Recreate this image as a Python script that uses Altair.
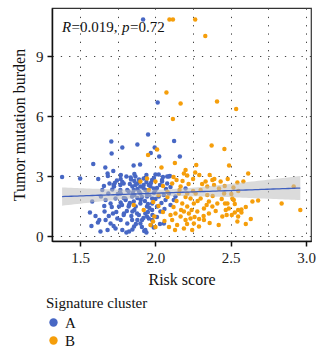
import altair as alt
import numpy as np
import pandas as pd

# Signature cluster A: risk score / tumor mutation burden
risk_a = [1.918, 2.015, 1.951, 1.707, 1.709, 1.78, 1.88, 1.995, 1.969, 2.025, 1.587, 1.667,
          1.855, 1.898, 1.682, 1.684, 1.38, 1.5, 2.124, 2.162, 2.078, 2.096,
          1.58, 1.565, 1.602, 1.575, 1.618, 1.658, 1.647, 1.695, 1.725, 1.687, 1.669, 1.702,
          1.735, 1.758, 1.669, 1.702, 1.635, 1.735, 1.769, 1.791, 1.813, 1.78, 1.825, 1.858,
          1.88, 1.847, 1.869, 1.902, 1.802, 1.769, 1.813, 1.847, 1.88, 1.891, 1.825, 1.769,
          1.718, 1.747, 1.627, 1.682, 1.722, 1.807, 1.847, 1.925, 1.94, 1.989, 1.638, 1.713,
          1.662, 1.789, 1.845, 1.878, 1.9, 1.944, 1.978, 1.778, 1.822, 1.856, 1.9, 1.944,
          1.978, 1.744, 1.789, 1.807, 1.838, 1.867, 1.896, 1.922, 1.956, 1.989, 1.767, 1.822,
          1.856, 1.9, 1.944, 1.978, 1.845, 1.8, 1.767, 1.722, 1.9, 1.933, 1.867,
          1.922, 1.967, 1.944, 2.0, 2.022, 2.056, 2.089, 2.122, 2.133, 2.2, 2.044, 2.078,
          1.978, 2.011, 2.033, 1.933, 1.956, 1.911, 1.933, 2.056, 2.067, 2.1,
          2.0, 2.022, 2.089, 1.978, 2.044, 1.769, 1.836, 1.891,
          1.86, 1.88, 1.91, 1.93, 1.95, 1.96, 1.99, 2.01, 2.03, 1.97, 1.92, 1.88,
          1.85, 1.83, 1.86, 1.89, 1.92, 1.95, 1.98, 2.01, 2.03, 1.97, 1.91, 1.87,
          1.84, 1.81, 1.79, 1.75, 1.73, 1.78, 1.83, 1.86, 1.94, 1.99, 2.05, 2.07,
          2.1, 2.04, 2.06, 2.0, 1.96, 1.71, 1.66, 1.74, 1.69, 1.94, 1.86, 1.77,
          1.72, 1.62]
tmb_a = [10.83, 6.67, 5.07, 4.72, 4.12, 4.43, 4.58, 4.43, 4.15, 3.98, 3.6, 3.42,
         3.52, 3.57, 3.13, 3.0, 2.95, 2.87, 4.75, 3.98, 2.97, 3.0,
         1.72, 1.18, 1.0, 0.5, 0.67, 2.5, 2.3, 2.63, 2.47, 2.13, 1.8, 1.63,
         1.88, 1.47, 0.8, 0.63, 0.22, 0.38, 0.8, 1.13, 0.63, 0.3, 0.22, 0.47,
         0.8, 1.22, 1.47, 1.8, 1.8, 2.13, 2.3, 2.47, 2.63, 2.22, 1.55, 1.67,
         1.13, 0.88, 0.8, 0.3, 0.5, 0.17, 0.33, 0.25, 0.17, 0.43, 1.97, 2.33,
         1.22, 1.05, 0.8, 1.13, 0.63, 0.97, 0.8, 1.55, 1.47, 1.72, 1.63, 1.47,
         1.3, 2.77, 2.63, 2.97, 2.83, 2.97, 2.72, 2.88, 2.55, 2.38, 2.3, 2.22,
         2.3, 2.13, 1.97, 1.88, 1.97, 1.88, 2.55, 2.55, 2.47, 2.3, 2.55,
         2.55, 2.47, 2.13, 2.3, 1.97, 2.05, 2.13, 1.8, 1.97, 2.38, 2.72, 2.63,
         1.63, 1.47, 1.22, 1.13, 0.88, 0.8, 0.3, 0.63, 1.8, 1.55,
         3.08, 3.08, 2.97, 2.8, 2.8, 2.85, 2.93, 2.83,
         2.05, 1.9, 1.95, 1.75, 1.6, 2.05, 2.15, 2.4, 2.55, 2.65, 2.4, 2.35,
         2.15, 1.65, 1.3, 1.05, 0.9, 1.2, 1.05, 0.95, 0.6, 0.55, 0.45, 0.6,
         1.0, 1.25, 1.9, 2.1, 2.65, 2.7, 2.6, 2.75, 2.7, 2.9, 2.95, 2.35,
         2.45, 1.65, 1.35, 1.85, 1.4, 1.45, 1.5, 1.2, 1.0, 3.05, 3.1, 3.05,
         3.25, 2.85]

# Signature cluster B
risk_b = [2.011, 1.951, 2.093, 2.116, 2.264, 2.331, 2.073, 2.167, 2.409, 2.536, 2.116, 2.373,
          2.458, 2.129, 2.271, 2.489, 2.04, 2.2, 2.189, 2.211, 2.264, 2.291, 2.616, 2.391,
          2.544, 2.584, 2.918, 2.962, 2.838, 2.644, 2.682, 2.6, 2.633, 2.544, 2.571, 2.527,
          2.549, 2.487, 2.507, 2.473, 2.511, 2.462, 2.518,
          1.9, 1.944, 1.956, 2.0, 1.985, 1.993, 1.984, 1.856, 1.922,
          2.111, 2.167, 2.211, 2.156, 2.233, 2.178, 2.211, 2.189, 2.222, 2.167, 2.2, 2.233,
          2.133, 2.111, 1.967, 2.255, 2.278, 2.322, 2.355, 2.344, 2.378, 2.411, 2.355, 2.3,
          2.267, 2.344, 2.389, 2.422, 2.456, 2.478, 2.467, 2.444, 2.322, 2.255, 2.289, 2.189,
          2.144, 2.244, 2.378, 2.333, 2.433, 2.14,
          2.504, 2.52, 2.527, 2.571, 2.549,
          2.02, 2.05, 2.08, 2.1, 2.12, 2.14, 2.16, 2.18, 2.2, 2.22, 2.24, 2.26,
          2.28, 2.3, 2.32, 2.34, 2.36, 2.38, 2.4, 2.42, 2.44, 2.46, 2.06, 2.09,
          2.13, 2.17, 2.21, 2.25, 2.29, 2.31, 2.05, 2.08, 2.12, 2.25, 2.36, 2.48,
          2.55, 2.6, 2.02, 2.0]
tmb_b = [4.33, 4.05, 10.83, 10.83, 10.83, 10.0, 7.18, 6.63, 6.72, 6.35, 5.85, 4.53,
         4.35, 3.65, 3.55, 3.52, 3.42, 3.3, 3.13, 3.03, 3.18, 3.05, 3.13, 2.85,
         2.68, 2.72, 2.47, 1.3, 1.63, 1.72, 1.77, 0.6, 0.85, 0.72, 1.17, 1.17,
         1.3, 1.38, 1.05, 1.05, 1.88, 1.63, 2.43,
         2.72, 2.88, 2.3, 2.72, 1.7, 0.97, 0.72, 1.55, 1.3,
         2.63, 2.47, 2.13, 2.13, 1.88, 1.63, 1.47, 1.22, 1.13, 0.97, 0.8, 0.88,
         1.13, 0.8, 0.55, 1.63, 1.22, 1.38, 1.72, 2.05, 1.47, 1.63, 1.13, 1.88,
         2.13, 2.47, 2.55, 2.38, 2.13, 1.63, 1.3, 0.97, 0.8, 0.63, 0.47, 0.38,
         0.55, 0.3, 2.8, 2.72, 2.72, 2.8,
         2.1, 1.8, 1.6, 1.33, 0.97,
         2.05, 2.5, 1.95, 1.05, 1.45, 1.75, 2.3, 2.75, 1.95, 2.6, 1.3, 0.95,
         1.75, 2.3, 1.0, 1.55, 0.65, 2.0, 1.25, 0.55, 1.85, 2.5, 0.75, 0.45,
         0.3, 1.3, 0.6, 2.25, 0.85, 2.6, 1.2, 2.2, 2.95, 2.85, 3.05, 2.85,
         2.25, 1.45, 1.5, 0.45]

x_grid = [1.5, 1.75, 2.0, 2.25, 2.5, 2.75, 3.0]
y_grid = [0, 1.5, 3, 4.5, 6, 7.5, 9, 10.5]

points = pd.concat([
    pd.DataFrame({"risk": risk_a, "tmb": tmb_a, "cluster": "A"}),
    pd.DataFrame({"risk": risk_b, "tmb": tmb_b, "cluster": "B"}),
], ignore_index=True)

# Least-squares fit with a 95% confidence band for the mean
x = points["risk"].to_numpy()
y = points["tmb"].to_numpy()
n = len(x)
slope, intercept = np.polyfit(x, y, 1)
resid = y - (intercept + slope * x)
s = np.sqrt(np.sum(resid ** 2) / (n - 2))
sxx = np.sum((x - x.mean()) ** 2)
xs = np.linspace(x.min(), x.max(), 80)
fit = intercept + slope * xs
half = 1.97 * s * np.sqrt(1.0 / n + (xs - x.mean()) ** 2 / sxx)
band = pd.DataFrame({"risk": xs, "fit": fit, "lo": fit - half, "hi": fit + half})

FONT = "Liberation Serif"
x_scale = alt.Scale(domain=[1.313, 3.033], nice=False, zero=False)
y_scale = alt.Scale(domain=[-0.25, 11.4], nice=False, zero=False)

x_minor = "abs(datum.value*2 - round(datum.value*2)) > 0.01"
y_minor = "datum.value % 3 != 0"

x_axis = alt.Axis(
    values=x_grid, title="Risk score", labelFont=FONT,
    labelExpr=f"{x_minor} ? '' : format(datum.value, '.1f')",
    tickOpacity={"condition": {"test": x_minor, "value": 0}, "value": 1},
    titlePadding=6,
)
y_axis = alt.Axis(
    values=y_grid, title="Tumor mutation burden", labelFont=FONT,
    labelExpr=f"{y_minor} ? '' : format(datum.value, 'd')",
    tickOpacity={"condition": {"test": y_minor, "value": 0}, "value": 1},
    titlePadding=8,
)

scatter = alt.Chart(points).mark_circle(size=20, opacity=1).encode(
    x=alt.X("risk:Q", scale=x_scale, axis=x_axis),
    y=alt.Y("tmb:Q", scale=y_scale, axis=y_axis),
    color=alt.Color(
        "cluster:N",
        scale=alt.Scale(domain=["A", "B"], range=["#4767C4", "#F59E0B"]),
        legend=alt.Legend(
            title="Signature cluster", orient="none", legendX=-6, legendY=288,
            symbolType="circle", symbolSize=70, symbolStrokeWidth=0,
            rowPadding=2, titlePadding=4,
        ),
    ),
)

ci = alt.Chart(band).mark_area(color="#BDBDBD", opacity=0.55).encode(
    x=alt.X("risk:Q", scale=x_scale), y=alt.Y("lo:Q", scale=y_scale), y2="hi:Q",
)
line = alt.Chart(band).mark_line(color="#3F5FBF", strokeWidth=1.3).encode(
    x=alt.X("risk:Q", scale=x_scale), y=alt.Y("fit:Q", scale=y_scale),
)

# Correlation annotation, italic symbols set separately
stat_parts = pd.DataFrame({
    "txt": ["R", "=0.019,", "p", "=0.72"],
    "px": [10, 19.5, 70, 78],
    "style": ["italic", "normal", "italic", "normal"],
})
stats = alt.layer(*[
    alt.Chart(stat_parts.iloc[[i]]).mark_text(
        font=FONT, fontSize=15, fontStyle=stat_parts["style"][i], align="left",
        baseline="middle", color="#111",
    ).encode(x=alt.value(float(stat_parts["px"][i])), y=alt.value(19), text="txt:N")
    for i in range(len(stat_parts))
])

chart = alt.layer(scatter, ci, line, stats).properties(
    width=259, height=233,
    autosize=alt.AutoSizeParams(type="none"),
    padding={"left": 52, "top": 8, "right": 9, "bottom": 112},
).configure(
    background="white", font=FONT
).configure_view(
    stroke="#333", strokeWidth=1.2
).configure_axis(
    grid=True, gridDash=[1.3, 7], gridColor="#444", gridWidth=1,
    domainColor="#111", domainWidth=1.5, tickColor="#111", tickWidth=1.5, tickSize=5,
    labelFont=FONT, labelFontSize=15, labelColor="#222", labelPadding=4,
    titleFont=FONT, titleFontSize=16, titleFontWeight="normal", titleColor="#111",
).configure_legend(
    titleFont=FONT, titleFontSize=15, titleFontWeight="normal", titleColor="#111",
    labelFont=FONT, labelFontSize=15, labelColor="#111",
)

chart.save("out.html", embed_options={"renderer": "svg", "actions": False})
